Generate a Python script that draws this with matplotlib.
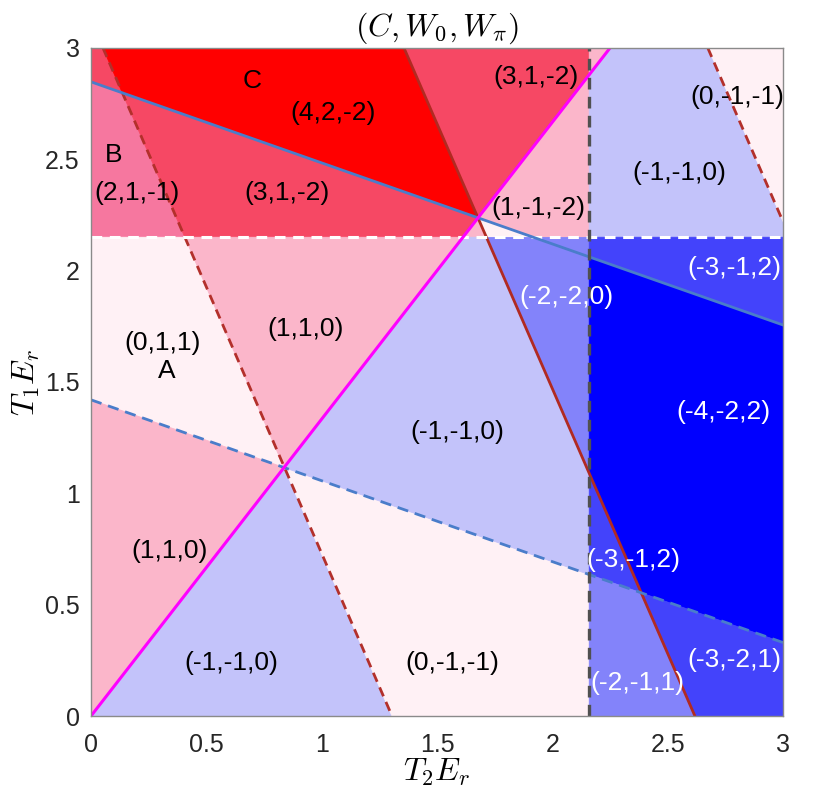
import matplotlib
matplotlib.use('Agg')
import matplotlib.pyplot as plt

plt.rcParams['mathtext.fontset'] = 'cm'
plt.rcParams['font.family'] = ['Liberation Sans', 'DejaVu Sans']

# boundary lines (x = T2*Er, y = T1*Er)
mag_x, mag_y = [0.0, 2.25], [0.0, 3.0]
blue_x, blue_y = [0.0, 3.0], [2.848, 1.756]
bdash_x, bdash_y = [0.0, 3.0], [1.42, 0.33]
rdash_x, rdash_y = [0.052, 1.305], [3.0, 0.0]
rsolid_x, rsolid_y = [1.357, 2.618], [3.0, 0.0]
rdash2_x, rdash2_y = [2.674, 3.0], [3.0, 2.22]
h_cut = 2.15
v_cut = 2.16

# Chern number C of each region and its corner points
region_c = [3, 2, 4, 3, 3, 1, 0, 1, 1, -1, 0,
            0, 1, 1, -1, 0, -1, -2,
            -3, -4, -3, -2, -3]
region_pts = [
    [(0, 3), (0.052, 3), (0.136, 2.798), (0, 2.848)],
    [(0, 2.848), (0.136, 2.798), (0.407, 2.15), (0, 2.15)],
    [(0.052, 3), (1.357, 3), (1.678, 2.237), (0.136, 2.798)],
    [(0.136, 2.798), (1.678, 2.237), (1.6125, 2.15), (0.407, 2.15)],
    [(1.357, 3), (2.16, 3), (2.16, 2.88), (1.678, 2.237)],
    [(1.678, 2.237), (2.16, 2.88), (2.16, 2.15), (1.918, 2.15)],
    [(1.678, 2.237), (1.918, 2.15), (1.715, 2.15)],
    [(1.678, 2.237), (1.715, 2.15), (1.6125, 2.15)],
    [(2.16, 3), (2.25, 3), (2.16, 2.88)],
    [(2.25, 3), (2.674, 3), (3, 2.22), (3, 2.15), (2.16, 2.15), (2.16, 2.88)],
    [(2.674, 3), (3, 3), (3, 2.22)],
    [(0, 2.15), (0.407, 2.15), (0.837, 1.116), (0, 1.42)],
    [(0, 0), (0, 1.42), (0.837, 1.116)],
    [(0.407, 2.15), (1.6125, 2.15), (0.837, 1.116)],
    [(0, 0), (0.837, 1.116), (1.305, 0)],
    [(1.305, 0), (0.837, 1.116), (2.16, 0.635), (2.16, 0)],
    [(0.837, 1.116), (1.6125, 2.15), (1.715, 2.15), (2.16, 1.09), (2.16, 0.635)],
    [(1.715, 2.15), (2.16, 2.15), (2.16, 1.09)],
    [(2.16, 2.15), (3, 2.15), (3, 1.756), (2.16, 2.062)],
    [(2.16, 2.062), (3, 1.756), (3, 0.33), (2.3855, 0.553), (2.16, 1.09)],
    [(2.16, 1.09), (2.3855, 0.553), (2.16, 0.635)],
    [(2.16, 0.635), (2.3855, 0.553), (2.618, 0), (2.16, 0)],
    [(2.3855, 0.553), (3, 0.33), (3, 0), (2.618, 0)],
]

c_colors = {4: '#ff0000', 3: '#f64864', 2: '#f6779f', 1: '#fbb6ca',
            0: '#fff1f5', -1: '#c3c3fa', -2: '#8383fa', -3: '#4343fb',
            -4: '#0000ff'}

label_text = ['C', '(4,2,-2)', '(3,1,-2)', '(0,-1,-1)', 'B', '(2,1,-1)',
              '(3,1,-2)', '(-1,-1,0)', '(1,-1,-2)', '(-3,-1,2)', '(-2,-2,0)',
              '(0,1,1)', 'A', '(1,1,0)', '(-4,-2,2)', '(-1,-1,0)', '(1,1,0)',
              '(-3,-1,2)', '(-1,-1,0)', '(0,-1,-1)', '(-3,-2,1)', '(-2,-1,1)']
label_x = [0.70, 1.05, 1.93, 2.80, 0.10, 0.20, 0.85, 2.55, 1.94, 2.79, 2.06,
           0.31, 0.33, 0.93, 2.74, 1.59, 0.34, 2.35, 0.61, 1.565, 2.79, 2.37]
label_y = [2.85, 2.71, 2.87, 2.78, 2.52, 2.35, 2.35, 2.44, 2.28, 2.01, 1.88,
           1.675, 1.55, 1.74, 1.365, 1.275, 0.74, 0.70, 0.24, 0.24, 0.25, 0.15]
label_white = ['(-3,-1,2)', '(-2,-2,0)', '(-4,-2,2)', '(-3,-2,1)', '(-2,-1,1)']

fig = plt.figure(figsize=(8.3, 8.01), dpi=100)
ax = fig.add_axes([0.1096, 0.1061, 0.8338, 0.8340])

for c, pts in zip(region_c, region_pts):
    xs = [p[0] for p in pts]
    ys = [p[1] for p in pts]
    ax.fill(xs, ys, color=c_colors[c], lw=0.6, zorder=1)

ax.plot(rdash_x, rdash_y, color='#b3302b', lw=2, dashes=(3.5, 2.2), zorder=3)
ax.plot(rdash2_x, rdash2_y, color='#b3302b', lw=2, dashes=(3.5, 2.2), zorder=3)
ax.plot(rsolid_x, rsolid_y, color='#b12a22', lw=2, zorder=3)
ax.plot(bdash_x, bdash_y, color='#4a7dca', lw=2, dashes=(4, 2.5), zorder=3)
ax.plot(blue_x, blue_y, color='#4a7dca', lw=2, zorder=4)
ax.plot(mag_x, mag_y, color='#ff00ff', lw=2.2, zorder=4)
ax.plot([0, 3], [h_cut, h_cut], color='white', lw=2.2, dashes=(3.5, 2.5), zorder=3)
ax.plot([v_cut, v_cut], [0, 3], color='#505050', lw=2.4, dashes=(3.5, 2.2), zorder=5)

for t, x, y in zip(label_text, label_x, label_y):
    col = 'white' if t in label_white else 'black'
    ax.text(x, y, t, color=col, fontsize=19, ha='center', va='center', zorder=6)

ax.set_xlim(0, 3)
ax.set_ylim(0, 3)
ax.set_xticks([0, 0.5, 1, 1.5, 2, 2.5, 3])
ax.set_xticklabels(['0', '0.5', '1', '1.5', '2', '2.5', '3'])
ax.set_yticks([0, 0.5, 1, 1.5, 2, 2.5, 3])
ax.set_yticklabels(['0', '0.5', '1', '1.5', '2', '2.5', '3'])
ax.tick_params(length=0, labelsize=18, colors='#262626')
ax.tick_params(axis='x', pad=12)
ax.tick_params(axis='y', pad=8)
for s in ax.spines.values():
    s.set_color('#8a8a8a')
    s.set_linewidth(1)
    s.set_zorder(7)

ax.set_title(r'$(C, W_0, W_\pi)$', fontsize=23, pad=9)
ax.set_xlabel(r'$T_2E_r$', fontsize=23, labelpad=0)
ax.set_ylabel(r'$T_1E_r$', fontsize=23, labelpad=2)

fig.savefig('out.png', dpi=100)
